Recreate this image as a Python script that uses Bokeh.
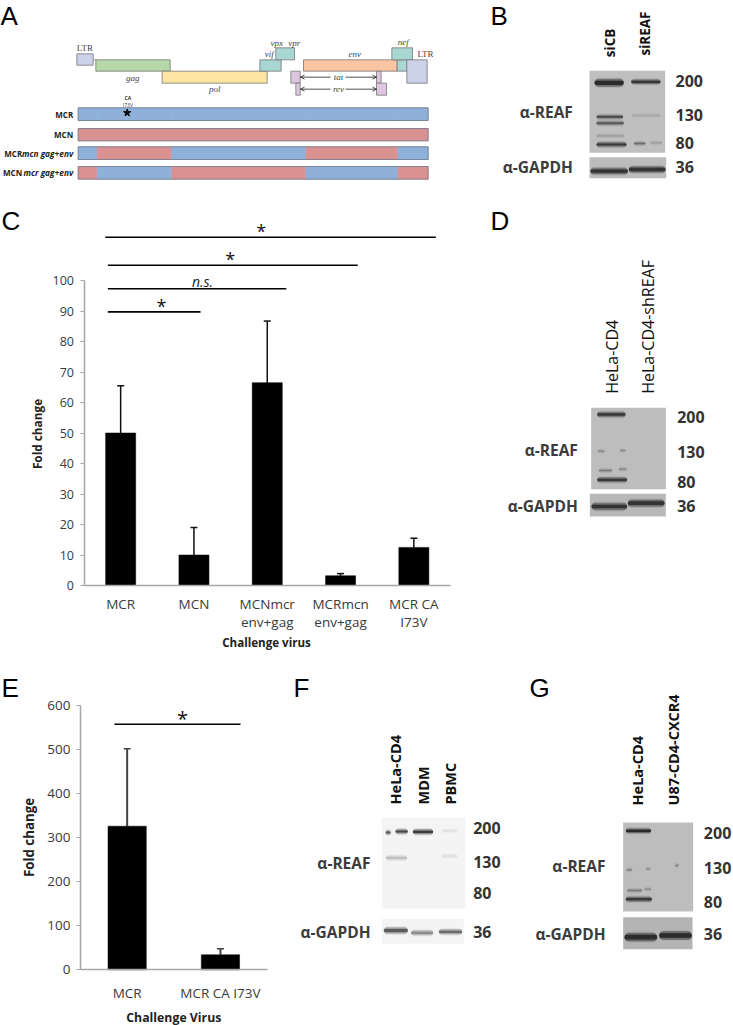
from math import pi
from bokeh.plotting import figure
from bokeh.layouts import column, row
from bokeh.models import ColumnDataSource, Whisker, TeeHead, FixedTicker
from bokeh.core.properties import value
from bokeh.embed import file_html
from bokeh.resources import INLINE

# ---------- chart data ----------
C_CATS = ["MCR", "MCN", "MCNmcr\nenv+gag", "MCRmcn\nenv+gag", "MCR CA\nI73V"]
C_VALS = [50, 10, 66.5, 3.2, 12.5]
C_UPPER = [65.5, 19, 86.7, 3.9, 15.5]
C_TICKS = [0, 10, 20, 30, 40, 50, 60, 70, 80, 90, 100]
# significance brackets: value level, category-scale from/to, mark, mark position
C_SIG_LEVEL = [114.2, 105.0, 97.3, 89.7]
C_SIG_FROM = [0.29, 0.325, 0.325, 0.325]
C_SIG_TO = [4.80, 3.735, 2.76, 1.59]
C_SIG_MARK = ["*", "*", "n.s.", "*"]
C_SIG_AT = [2.417, 1.995, 1.617, 1.057]

E_CATS = ["MCR", "MCR CA I73V"]
E_VALS = [326, 34]
E_UPPER = [502, 48]
E_TICKS = [0, 100, 200, 300, 400, 500, 600]
E_SIG_LEVEL = 557.6
E_SIG_FROM = 0.364
E_SIG_TO = 1.715
E_SIG_AT = 1.093

# genome map, panel A: name, start, end, top, bottom, fill (drawn on a map grid three times the page)
GENES = [
    ("LTR5", 229, 278, 160, 194, "#ccd2ea"), ("gag", 286, 509, 178, 212, "#b7d8a8"),
    ("pol", 485, 800, 212, 248, "#fde6a4"), ("vif", 778, 842, 178, 212, "#a8d6d2"),
    ("vpx", 826, 882, 142, 178, "#a8d6d2"), ("env", 909, 1190, 178, 212, "#fbc5a3"),
    ("tat1", 871, 899, 212, 248, "#dfc6e0"), ("rev1", 886, 899, 248, 284, "#dfc6e0"),
    ("tat2", 1128, 1142, 212, 248, "#dfc6e0"), ("rev2", 1128, 1158, 248, 284, "#dfc6e0"),
    ("nef2", 1190, 1220, 178, 212, "#a8d6d2"), ("nef", 1174, 1236, 142, 178, "#a8d6d2"),
    ("LTR3", 1219, 1280, 178, 248, "#ccd2ea"),
]
GENE_LABELS = [
    ("LTR", 253, 142), ("LTR", 1275, 159), ("gag", 397, 233), ("pol", 643, 266),
    ("vif", 806, 160), ("vpx", 829, 126), ("vpr", 881, 126), ("env", 1063, 160),
    ("nef", 1208, 123), ("tat", 1014, 230), ("rev", 1014, 266),
]
BLUE, RED = "#8fb1d9", "#da9191"
CHIMERA_NAMES = ["MCR", "MCN", "MCRmcn gag+env", "MCNmcr gag+env"]
CHIMERA_TOP = [322, 384, 439, 498]
CHIMERA_BOTTOM = [360, 421, 477, 536]
CHIMERA_EDGES = [233, 290, 514, 916, 1192, 1283]
CHIMERA_COLOURS = [
    [BLUE] * 5, [RED] * 5,
    [BLUE, RED, BLUE, RED, BLUE], [RED, BLUE, RED, BLUE, RED],
]

# western blots (each on a grid three times the page): membranes and bands
# band = from, to, height, thickness, shade
B_MEMBRANES = [(297, 524, 211, 457, "#bfbfbf"), (297, 527, 470, 533, "#bcbcbc")]
B_BANDS = [
    (312, 400, 247, 18, "#262626"), (422, 510, 244, 9, "#303030"), (318, 398, 349, 7, "#444444"),
    (318, 400, 368, 7, "#555555"), (318, 400, 406, 4, "#999999"), (318, 408, 432, 9, "#333333"),
    (430, 465, 429, 5, "#666666"), (480, 515, 427, 3, "#999999"), (425, 510, 345, 2, "#a0a0a0"),
    (300, 412, 512, 14, "#2e2e2e"), (415, 525, 507, 14, "#2e2e2e"),
]
D_MEMBRANES = [(302, 526, 592, 836, "#bdbdbd"), (298, 526, 850, 918, "#b8b8b8")]
D_BANDS = [
    (320, 405, 612, 10, "#333333"), (322, 342, 722, 3, "#808080"), (388, 405, 720, 3, "#808080"),
    (325, 365, 780, 5, "#777777"), (385, 408, 776, 4, "#808080"), (320, 410, 808, 10, "#333333"),
    (303, 410, 888, 16, "#2e2e2e"), (412, 522, 878, 16, "#2e2e2e"),
]
F_MEMBRANES = [(304, 555, 442, 714, "#f4f4f4"), (304, 550, 745, 820, "#f4f4f4")]
F_BANDS = [
    (316, 330, 486, 8, "#555555"), (345, 382, 483, 9, "#444444"), (397, 458, 484, 10, "#333333"),
    (485, 530, 481, 4, "#dddddd"), (316, 380, 562, 8, "#bbbbbb"), (485, 530, 557, 5, "#dddddd"),
    (310, 382, 780, 13, "#555555"), (392, 458, 787, 10, "#888888"), (475, 545, 784, 10, "#666666"),
]
G_MEMBRANES = [(1028, 1238, 456, 723, "#bdbdbd"), (1028, 1236, 740, 836, "#b4b4b4")]
G_BANDS = [
    (1036, 1112, 481, 9, "#222222"), (1038, 1055, 598, 3, "#777777"), (1096, 1110, 595, 3, "#888888"),
    (1040, 1085, 660, 5, "#777777"), (1092, 1112, 656, 4, "#888888"), (1036, 1114, 686, 10, "#333333"),
    (1186, 1192, 585, 3, "#666666"), (1032, 1130, 800, 20, "#262626"), (1136, 1234, 795, 20, "#262626"),
]
# labels: text, x, y
B_LANES = [("siCB", 358, 170), ("siREAF", 463, 165)]
B_SIZES = [("200", 555, 240), ("130", 555, 344), ("80", 555, 427), ("36", 555, 498)]
B_ROWS = [("α-REAF", 247, 335), ("α-GAPDH", 247, 498)]
D_LANES = [("HeLa-CD4", 363, 550), ("HeLa-CD4-shREAF", 472, 550)]
D_SIZES = [("200", 560, 618), ("130", 560, 723), ("80", 560, 815), ("36", 560, 885)]
D_ROWS = [("α-REAF", 262, 717), ("α-GAPDH", 262, 885)]
F_LANES = [("HeLa-CD4", 345, 402), ("MDM", 428, 402), ("PBMC", 510, 402)]
F_SIZES = [("200", 578, 472), ("130", 578, 574), ("80", 578, 668), ("36", 578, 785)]
F_ROWS = [("α-REAF", 270, 578), ("α-GAPDH", 270, 785)]
G_LANES = [("HeLa-CD4", 1070, 405), ("U87-CD4-CXCR4", 1180, 405)]
G_SIZES = [("200", 1270, 487), ("130", 1270, 592), ("80", 1270, 694), ("36", 1270, 790)]
G_ROWS = [("α-REAF", 975, 586), ("α-GAPDH", 975, 790)]

SANS = "Open Sans"
SERIF = "Liberation Serif"
LETTER_FONT = "Liberation Sans"
INK = "#3a3a3a"
AXIS_GREY = "#a6a6a6"


def panel(x0, x1, y0, y1):
    p = figure(frame_width=x1 - x0, frame_height=y1 - y0, x_range=(x0, x1), y_range=(y1, y0),
               x_axis_type=None, y_axis_type=None, toolbar_location=None,
               output_backend="svg", min_border=0, outline_line_color=None)
    p.xgrid.visible = False
    p.ygrid.visible = False
    return p


def txt(p, x, y, s, size, style="normal", color="black", align="left", base="middle",
        angle=0.0, font=SANS, dy=0):
    p.text(x=[x], y=[y], text=[s], text_font=value(font), text_font_size=f"{size}px",
           text_font_style=style, text_color=color, text_align=align, text_baseline=base,
           angle=angle, y_offset=dy)


def letter(p, x, y, s):
    txt(p, x, y, s, 26, base="top", font=LETTER_FONT)


def blot(p, ox, oy, membranes, bands, lanes, sizes, rows, lane_size, lane_style, num=16):
    X = lambda v: ox + v / 3
    Y = lambda v: oy + v / 3
    p.quad(left=[X(m[0]) for m in membranes], right=[X(m[1]) for m in membranes],
           top=[Y(m[2]) for m in membranes], bottom=[Y(m[3]) for m in membranes],
           fill_color=[m[4] for m in membranes], line_color=None)
    for grow, alpha, shrink in [(4.0, 0.12, 1.0), (2.5, 0.2, 1.0), (1.2, 0.35, 1.0), (0.0, 0.9, 0.7)]:
        xs, ys, ws, cs = [], [], [], []
        for a, b, yy, th, col in bands:
            w = th / 3 * shrink + grow
            l, r = X(a) + w / 2, X(b) - w / 2
            if l > r:
                l = r = (X(a) + X(b)) / 2
            xs.append([l, r])
            ys.append([Y(yy), Y(yy)])
            ws.append(w)
            cs.append(col)
        p.multi_line(xs=xs, ys=ys, line_width=ws, line_color=cs, line_alpha=alpha, line_cap="round")
    for s, x, y in lanes:
        txt(p, X(x), Y(y), s, lane_size, lane_style, "#111111", "left", "middle", pi / 2)
    for s, x, y in sizes:
        txt(p, X(x), Y(y), s, num, "bold", "#333333")
    for s, x, y in rows:
        txt(p, X(x), Y(y), s, 15.5, "bold", "#3c3c3c", "right")


def bars(page_x0, page_y0, width, height, axis_x, zero_y, unit_x, unit_y, cats, vals, upper, ticks,
         barw, xtick_size, ytick_size, tick_off, line_h, wh_col, wh_w):
    """Frame fills the whole panel; both axes are pinned at the value 0 so that letter and axis
    titles can sit in the same frame."""
    x_lo = (page_x0 - axis_x) / unit_x
    x_hi = (page_x0 + width - axis_x) / unit_x
    y_hi = (zero_y - page_y0) / unit_y
    y_lo = (zero_y - page_y0 - height) / unit_y
    p = figure(frame_width=width, frame_height=height, x_range=(x_lo, x_hi), y_range=(y_lo, y_hi),
               toolbar_location=None, output_backend="svg", min_border=0, outline_line_color=None)
    p.xgrid.visible = False
    p.ygrid.visible = False
    xs = [i + 0.5 for i in range(len(cats))]
    p.vbar(x=xs, top=vals, width=barw, bottom=0, fill_color="black", line_color="black", line_width=0.5)
    src = ColumnDataSource(dict(x=xs, lo=vals, hi=upper))
    p.add_layout(Whisker(source=src, base="x", lower="lo", upper="hi", dimension="height",
                         line_color=wh_col, line_width=wh_w, lower_head=None,
                         upper_head=TeeHead(size=7, line_color=wh_col, line_width=1.5)))
    ax = p.xaxis[0]
    ax.fixed_location = 0
    ax.bounds = (0, len(cats))
    ax.ticker = FixedTicker(ticks=xs)
    ax.major_label_overrides = {x: c for x, c in zip(xs, cats)}
    ax.major_tick_out = 0
    ax.major_tick_in = 0
    ax.minor_tick_out = 0
    ax.minor_tick_in = 0
    ax.axis_line_color = AXIS_GREY
    ax.axis_line_width = 1.5
    ax.major_label_text_font = SANS
    ax.major_label_text_font_size = f"{xtick_size}px"
    ax.major_label_text_color = INK
    ax.major_label_text_line_height = line_h
    ax.major_label_standoff = tick_off
    ay = p.yaxis[0]
    ay.fixed_location = 0
    ay.ticker = FixedTicker(ticks=ticks)
    ay.bounds = (0, ticks[-1])
    ay.major_tick_out = 4
    ay.major_tick_in = 0
    ay.minor_tick_out = 0
    ay.minor_tick_in = 0
    ay.major_tick_line_color = AXIS_GREY
    ay.axis_line_color = AXIS_GREY
    ay.axis_line_width = 1.5
    ay.major_label_text_font = SANS
    ay.major_label_text_font_size = f"{ytick_size}px"
    ay.major_label_text_color = INK
    ay.major_label_standoff = 6
    return p


# ---------- panel A ----------
A = panel(0, 490, 0, 200)
Z = lambda v: v / 3
letter(A, 0, 0, "A")
A.segment(x0=[Z(278)], y0=[Z(178)], x1=[Z(286)], y1=[Z(178)], line_color="#777777", line_width=0.8)
A.quad(left=[Z(g[1]) for g in GENES], right=[Z(g[2]) for g in GENES],
       top=[Z(g[3]) for g in GENES], bottom=[Z(g[4]) for g in GENES],
       fill_color=[g[5] for g in GENES], line_color="#777777", line_width=0.8)
for s, x, y in GENE_LABELS:
    italic = s != "LTR"
    txt(A, Z(x), Z(y), s, 9, "italic" if italic else "normal", "#444444", "center", font=SERIF)
# arrows for tat and rev
for y in (230, 266):
    for a, b in ((990, 900), (1035, 1128)):
        A.segment(x0=[Z(a)], y0=[Z(y)], x1=[Z(b)], y1=[Z(y)], line_color="#222222", line_width=0.8)
    A.multi_line(xs=[[Z(912), Z(900), Z(912)], [Z(1116), Z(1128), Z(1116)]],
                 ys=[[Z(y - 6), Z(y), Z(y + 6)], [Z(y - 6), Z(y), Z(y + 6)]],
                 line_color="#222222", line_width=0.8)
# chimera bars
for name, top, bot, cols in zip(CHIMERA_NAMES, CHIMERA_TOP, CHIMERA_BOTTOM, CHIMERA_COLOURS):
    A.quad(left=[Z(v) for v in CHIMERA_EDGES[:-1]], right=[Z(v) for v in CHIMERA_EDGES[1:]],
           top=Z(top), bottom=Z(bot), fill_color=cols, line_color=cols, line_width=0.5)
    A.quad(left=[Z(CHIMERA_EDGES[0])], right=[Z(CHIMERA_EDGES[-1])], top=[Z(top)], bottom=[Z(bot)],
           fill_color=None, line_color="#6d7686", line_width=0.8)
    mid = Z((top + bot) / 2)
    if " " in name:
        txt(A, Z(65), mid, name[:3], 8, "bold", "#222222", "right")
        txt(A, Z(218), mid, name[3:], 8.3, "bold italic", "#222222", "right")
    else:
        txt(A, Z(218), mid, name, 8, "bold", "#222222", "right")
txt(A, Z(382), Z(291), "CA", 5, "bold", "#333333", "center")
txt(A, Z(382), Z(313), "I73V", 5, "normal", "#333333", "center")
A.scatter(x=[Z(380)], y=[Z(337)], marker="star", size=7.5, color="black")

# ---------- panel B ----------
Bp = panel(490, 733, 0, 200)
letter(Bp, 490, 0, "B")
blot(Bp, 490, 0, B_MEMBRANES, B_BANDS, B_LANES, B_SIZES, B_ROWS, 13.5, "bold")

# ---------- panel C ----------
CX, CY, CUX, CUY = 83.5, 585, 73.3, 3.05
cx = lambda v: (v - CX) / CUX
cy = lambda v: (CY - v) / CUY
C = bars(0, 200, 490, 470, CX, CY, CUX, CUY, C_CATS, C_VALS, C_UPPER, C_TICKS, 0.41, 13.5, 12.5,
         9, 1.03, "#111111", 1.5)
for lvl, a, b, mark, at in zip(C_SIG_LEVEL, C_SIG_FROM, C_SIG_TO, C_SIG_MARK, C_SIG_AT):
    C.segment(x0=[a], x1=[b], y0=[lvl], y1=[lvl], line_color="black", line_width=1.6)
    if mark == "*":
        txt(C, at, lvl, mark, 18, align="center", color="#111111", dy=-6)
    else:
        txt(C, at, lvl, mark, 14, "italic", "#222222", "center", dy=-7)
letter(C, cx(1), cy(205), "C")
txt(C, cx(36), cy(433.5), "Fold change", 11.8, "bold", "#222222", "center", angle=pi / 2)
txt(C, cx(266), cy(642), "Challenge virus", 11.6, "bold", "#222222", "center")

# ---------- panel D ----------
Dp = panel(490, 733, 200, 670)
letter(Dp, 490, 205, "D")
blot(Dp, 490, 210, D_MEMBRANES, D_BANDS, D_LANES, D_SIZES, D_ROWS, 16, "normal")

# ---------- panel E ----------
EX, EY, EUX, EUY = 80, 969.3, 93.3, 0.4405
ex = lambda v: (v - EX) / EUX
ey = lambda v: (EY - v) / EUY
E = bars(0, 670, 280, 355, EX, EY, EUX, EUY, E_CATS, E_VALS, E_UPPER, E_TICKS, 0.41, 13.5, 13.5,
         14, 1.03, "#444444", 2)
E.segment(x0=[E_SIG_FROM], x1=[E_SIG_TO], y0=[E_SIG_LEVEL], y1=[E_SIG_LEVEL], line_color="black", line_width=1.6)
txt(E, E_SIG_AT, E_SIG_LEVEL, "*", 20, align="center", color="#111111", dy=-6)
letter(E, ex(1), ey(672), "E")
txt(E, ex(28), ey(837), "Fold change", 13.3, "bold", "#222222", "center", angle=pi / 2)
txt(E, ex(173.3), ey(1016.7), "Challenge Virus", 12.3, "bold", "#222222", "center")

# ---------- panel F ----------
Fp = panel(280, 525, 670, 1025)
letter(Fp, 293, 672, "F")
blot(Fp, 280, 670, F_MEMBRANES, F_BANDS, F_LANES, F_SIZES, F_ROWS, 14.5, "bold")

# ---------- panel G ----------
Gp = panel(525, 733, 670, 1025)
letter(Gp, 529, 672, "G")
blot(Gp, 280, 670, G_MEMBRANES, G_BANDS, G_LANES, G_SIZES, G_ROWS, 14.5, "bold")

page = column(
    row(A, Bp, spacing=0),
    row(C, Dp, spacing=0),
    row(E, Fp, Gp, spacing=0),
    spacing=0,
    styles={"position": "absolute", "left": "0px", "top": "0px"},
)
open("out.html", "w").write(file_html(page, INLINE))
